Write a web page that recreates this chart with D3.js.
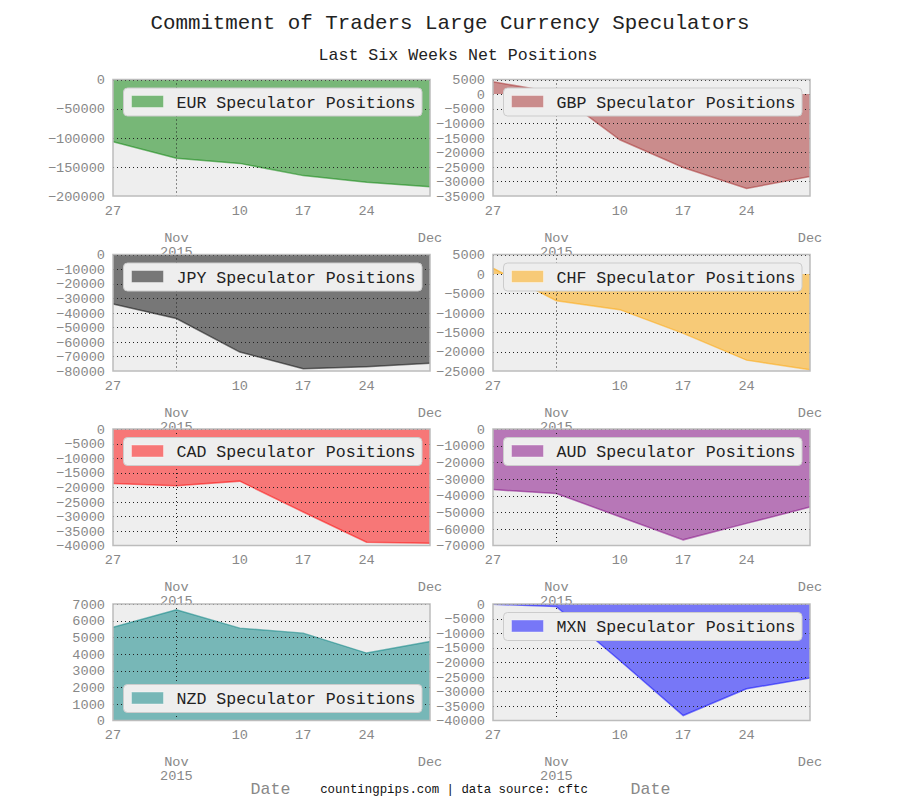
<!DOCTYPE html>
<html>
<head>
<meta charset="utf-8">
<script src="https://cdn.jsdelivr.net/npm/d3@7"></script>
<style>
  body { margin: 0; background: #ffffff; }
  svg { display: block; }
</style>
</head>
<body>
<svg id="chart" width="900" height="800"></svg>
<script>
// ---------- DATA ----------
const dates = ["2015-10-27", "2015-11-03", "2015-11-10", "2015-11-17", "2015-11-24", "2015-12-01"];
const currencies = ["EUR", "GBP", "JPY", "CHF", "CAD", "AUD", "NZD", "MXN"];
const seriesColors = ["#008000", "#a52a2a", "#000000", "#ffa500", "#ff0000", "#800080", "#008080", "#0000ff"];

const eurValues = [-107000, -135000, -144000, -165000, -176500, -184000];
const gbpValues = [4200, 500, -15700, -25200, -32400, -28300];
const jpyValues = [-34000, -44000, -67000, -78500, -77000, -74700];
const chfValues = [1500, -6900, -9200, -15300, -22200, -24700];
const cadValues = [-18700, -19500, -17900, -28500, -38900, -39200];
const audValues = [-36400, -38800, -52700, -66600, -56700, -46900];
const nzdValues = [5600, 6650, 5550, 5250, 4050, 4750];
const mxnValues = [-100, -900, -19400, -38300, -29100, -25400];

const eurTicks = [0, -50000, -100000, -150000, -200000];
const gbpTicks = [5000, 0, -5000, -10000, -15000, -20000, -25000, -30000, -35000];
const jpyTicks = [0, -10000, -20000, -30000, -40000, -50000, -60000, -70000, -80000];
const chfTicks = [5000, 0, -5000, -10000, -15000, -20000, -25000];
const cadTicks = [0, -5000, -10000, -15000, -20000, -25000, -30000, -35000, -40000];
const audTicks = [0, -10000, -20000, -30000, -40000, -50000, -60000, -70000];
const nzdTicks = [7000, 6000, 5000, 4000, 3000, 2000, 1000, 0];
const mxnTicks = [0, -5000, -10000, -15000, -20000, -25000, -30000, -35000, -40000];

const minorTickDates = ["2015-10-27", "2015-11-10", "2015-11-17", "2015-11-24"];
const minorTickLabels = ["27", "10", "17", "24"];
const majorTickDates = ["2015-11-03", "2015-12-01"];
const majorTickLabels = [["Nov", "2015"], ["Dec"]];

const legendPositions = ["upper", "upper", "upper", "upper", "upper", "upper", "lower", "upper"];

const titleText = "Commitment of Traders Large Currency Speculators";
const subtitleText = "Last Six Weeks Net Positions";
const xLabelText = "Date";
const sourceText = "countingpips.com | data source: cftc";

const allValues = [eurValues, gbpValues, jpyValues, chfValues, cadValues, audValues, nzdValues, mxnValues];
const allTicks = [eurTicks, gbpTicks, jpyTicks, chfTicks, cadTicks, audTicks, nzdTicks, mxnTicks];

// ---------- DRAW ----------
const FONT = "'Liberation Mono', 'DejaVu Sans Mono', 'Courier New', monospace";
const svg = d3.select("#chart");
const parse = d3.timeParse("%Y-%m-%d");
const dateObjs = dates.map(parse);

const colLeft = [113, 493];
const axW = 317;
const rowTop = [79.5, 254.5, 429, 604];
const axH = 116.5;

svg.append("text").attr("x", 450).attr("y", 29).attr("text-anchor", "middle")
  .attr("font-family", FONT).attr("font-size", 20.8).attr("fill", "#222")
  .text(titleText);
svg.append("text").attr("x", 458).attr("y", 60).attr("text-anchor", "middle")
  .attr("font-family", FONT).attr("font-size", 16.6).attr("fill", "#222")
  .text(subtitleText);

const mix = (c) => {
  const col = d3.color(c), bg = d3.color("#eeeeee");
  return d3.rgb((col.r + bg.r) / 2, (col.g + bg.g) / 2, (col.b + bg.b) / 2).formatHex();
};

currencies.forEach((cur, i) => {
  const col = i % 2, row = Math.floor(i / 2);
  const left = colLeft[col], top = rowTop[row];
  const vals = allValues[i], ticks = allTicks[i];
  const color = seriesColors[i];

  const x = d3.scaleTime().domain([dateObjs[0], dateObjs[dateObjs.length - 1]]).range([left, left + axW]);
  const y = d3.scaleLinear().domain(d3.extent(ticks)).range([top + axH, top]);

  const g = svg.append("g");
  const clipId = "clip" + i;
  g.append("clipPath").attr("id", clipId).append("rect")
    .attr("x", left).attr("y", top).attr("width", axW).attr("height", axH);

  g.append("rect").attr("x", left).attr("y", top).attr("width", axW).attr("height", axH)
    .attr("fill", "#eeeeee");

  const data = dateObjs.map((d, k) => ({ d, v: vals[k] }));
  const area = d3.area().x(p => x(p.d)).y0(y(0)).y1(p => y(p.v));
  const line = d3.line().x(p => x(p.d)).y(p => y(p.v));

  g.append("path").datum(data).attr("d", area).attr("fill", color).attr("fill-opacity", 0.5)
    .attr("clip-path", `url(#${clipId})`);
  g.append("path").datum(data).attr("d", line).attr("fill", "none").attr("stroke", color)
    .attr("stroke-opacity", 0.5).attr("stroke-width", 1.5).attr("clip-path", `url(#${clipId})`);

  // grid
  const gridG = g.append("g").attr("clip-path", `url(#${clipId})`);
  ticks.forEach(t => {
    gridG.append("line").attr("x1", left).attr("x2", left + axW).attr("y1", Math.round(y(t)) + 0.5).attr("y2", Math.round(y(t)) + 0.5)
      .attr("stroke", "#222").attr("stroke-width", 1).attr("stroke-dasharray", "1,3");
  });
  majorTickDates.forEach(ds => {
    const xx = Math.round(x(parse(ds))) + 0.5;
    gridG.append("line").attr("x1", xx).attr("x2", xx).attr("y1", top).attr("y2", top + axH)
      .attr("stroke", "#222").attr("stroke-width", 1).attr("stroke-dasharray", "1,3");
  });

  // frame
  g.append("rect").attr("x", left).attr("y", top).attr("width", axW).attr("height", axH)
    .attr("fill", "none").attr("stroke", "#bcbcbc").attr("stroke-width", 1.5);

  // y tick labels
  ticks.forEach(t => {
    g.append("text").attr("x", left - 8).attr("y", y(t)).attr("dy", "0.35em")
      .attr("text-anchor", "end").attr("font-family", FONT).attr("font-size", 13.6)
      .attr("fill", "#888").text(d3.format("d")(t).replace("-", "\u2212"));
  });

  // x minor labels
  const bottom = top + axH;
  minorTickDates.forEach((ds, k) => {
    g.append("text").attr("x", x(parse(ds))).attr("y", bottom + 14).attr("dy", "0.35em")
      .attr("text-anchor", "middle").attr("font-family", FONT).attr("font-size", 13.6)
      .attr("fill", "#888").text(minorTickLabels[k]);
  });
  majorTickDates.forEach((ds, k) => {
    majorTickLabels[k].forEach((lab, j) => {
      g.append("text").attr("x", x(parse(ds))).attr("y", bottom + 41 + j * 14).attr("dy", "0.35em")
        .attr("text-anchor", "middle").attr("font-family", FONT).attr("font-size", 13.6)
        .attr("fill", "#888").text(lab);
    });
  });

  // legend
  const lw = 298.5, lh = 28;
  const lx = left + axW - 8 - lw;
  const ly = legendPositions[i] === "upper" ? top + 8.5 : top + axH - 8 - lh;
  g.append("rect").attr("x", lx).attr("y", ly).attr("width", lw).attr("height", lh).attr("rx", 4)
    .attr("fill", "#eeeeee").attr("stroke", "#cccccc").attr("stroke-width", 1);
  g.append("rect").attr("x", lx + 8).attr("y", ly + 7.5).attr("width", 32).attr("height", 12)
    .attr("fill", mix(color)).attr("stroke", "#ffffff").attr("stroke-opacity", 0.4).attr("stroke-width", 1);
  g.append("text").attr("x", lx + 53).attr("y", ly + 14).attr("dy", "0.35em")
    .attr("font-family", FONT).attr("font-size", 16.6).attr("fill", "#222")
    .text(cur + " Speculator Positions");
});

// x labels
colLeft.forEach(l => {
  svg.append("text").attr("x", l + axW / 2 - 1).attr("y", 788).attr("dy", "0.35em")
    .attr("text-anchor", "middle").attr("font-family", FONT).attr("font-size", 16.6)
    .attr("fill", "#888").text(xLabelText);
});
svg.append("text").attr("x", 454).attr("y", 789).attr("dy", "0.35em")
  .attr("text-anchor", "middle").attr("font-family", FONT).attr("font-size", 12.4)
  .attr("fill", "#111").text(sourceText);
</script>
</body>
</html>
